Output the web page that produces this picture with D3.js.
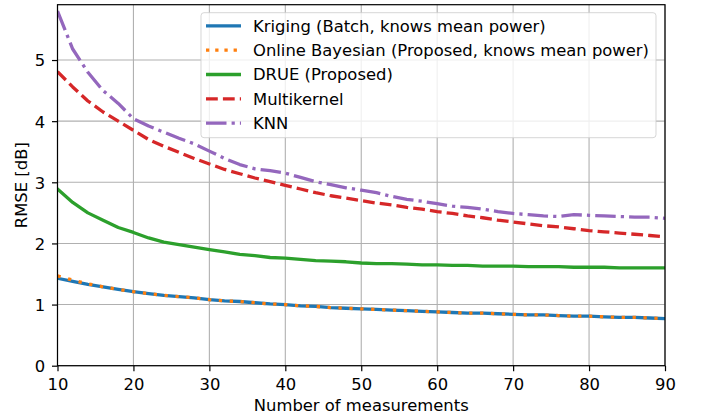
<!DOCTYPE html>
<html>
<head>
<meta charset="utf-8">
<script src="https://cdn.jsdelivr.net/npm/d3@7"></script>
<style>
  html, body { margin: 0; padding: 0; background: #fff; }
  svg { display: block; }
  text { font-family: "DejaVu Sans", sans-serif; fill: #000; }
</style>
</head>
<body>
<svg id="chart" width="701" height="418"></svg>
<script>
const xs = [10,12,14,16,18,20,22,24,26,28,30,32,34,36,38,40,42,44,46,48,50,52,54,56,58,60,62,64,66,68,70,72,74,76,78,80,82,84,86,88,90];

const kriging = [1.43,1.38,1.33,1.29,1.25,1.21,1.18,1.15,1.13,1.11,1.08,1.06,1.05,1.03,1.01,1.00,0.98,0.97,0.95,0.94,0.93,0.92,0.91,0.90,0.89,0.88,0.87,0.86,0.86,0.85,0.84,0.83,0.83,0.82,0.81,0.81,0.80,0.79,0.79,0.78,0.77];
const onlineBayes = [1.47,1.40,1.34,1.29,1.25,1.21,1.18,1.15,1.13,1.11,1.08,1.06,1.05,1.03,1.01,1.00,0.98,0.97,0.95,0.94,0.93,0.92,0.91,0.90,0.89,0.88,0.87,0.86,0.86,0.85,0.84,0.83,0.83,0.82,0.81,0.81,0.80,0.79,0.79,0.78,0.77];
const drue = [2.89,2.67,2.50,2.38,2.26,2.18,2.09,2.02,1.98,1.94,1.90,1.86,1.82,1.80,1.77,1.76,1.74,1.72,1.71,1.70,1.68,1.67,1.67,1.66,1.65,1.65,1.64,1.64,1.63,1.63,1.63,1.62,1.62,1.62,1.61,1.61,1.61,1.60,1.60,1.60,1.60];
const multikernel = [4.81,4.56,4.33,4.15,4.00,3.85,3.70,3.59,3.49,3.39,3.30,3.21,3.14,3.07,3.01,2.95,2.89,2.83,2.78,2.74,2.70,2.66,2.63,2.59,2.56,2.52,2.49,2.45,2.42,2.38,2.35,2.32,2.29,2.27,2.24,2.21,2.19,2.17,2.15,2.13,2.11];
const knn = [5.80,5.18,4.80,4.50,4.29,4.04,3.92,3.82,3.72,3.63,3.51,3.39,3.29,3.22,3.19,3.15,3.08,3.01,2.96,2.91,2.87,2.83,2.77,2.72,2.69,2.65,2.61,2.59,2.56,2.52,2.49,2.47,2.45,2.44,2.47,2.46,2.45,2.44,2.43,2.43,2.41];

const seriesNames = ["Kriging (Batch, knows mean power)", "Online Bayesian (Proposed, knows mean power)", "DRUE (Proposed)", "Multikernel", "KNN"];
const xTicks = [10,20,30,40,50,60,70,80,90];
const yTicks = [0,1,2,3,4,5];
const xLabel = "Number of measurements";
const yLabel = "RMSE [dB]";

const styles = [
  {color: "#1f77b4", dash: null, legendDash: null},
  {color: "#ff7f0e", dash: "3.3,7.6", legendDash: "3.3,5.9"},
  {color: "#2ca02c", dash: null, legendDash: null},
  {color: "#d62728", dash: "11.8,5.1", legendDash: "11.8,5.1"},
  {color: "#9467bd", dash: "20.5,5.1,3.2,5.1", legendDash: "20.5,5.1,3.2,5.1"}
];
const seriesValues = [kriging, onlineBayes, drue, multikernel, knn];

const L = 57.5, R = 665, T = 4.7, B = 365.7;
const svg = d3.select("#chart");
const x = d3.scaleLinear().domain([10, 90]).range([L, R]);
const y = d3.scaleLinear().domain([0, 5.905]).range([B, T]);
const FS = "16.4px";

// grid
const grid = svg.append("g");
grid.selectAll("line.gx").data(xTicks).enter().append("line")
  .attr("x1", d => x(d)).attr("x2", d => x(d)).attr("y1", T).attr("y2", B)
  .attr("stroke", "#b0b0b0").attr("stroke-width", 1.1);
grid.selectAll("line.gy").data(yTicks).enter().append("line")
  .attr("y1", d => y(d)).attr("y2", d => y(d)).attr("x1", L).attr("x2", R)
  .attr("stroke", "#b0b0b0").attr("stroke-width", 1.1);

// clip
svg.append("clipPath").attr("id", "clip").append("rect")
  .attr("x", L).attr("y", T).attr("width", R - L).attr("height", B - T);

const line = d3.line().x(d => x(d[0])).y(d => y(d[1]));
const lines = svg.append("g").attr("clip-path", "url(#clip)");
seriesValues.forEach((vals, i) => {
  const pts = xs.map((xv, j) => [xv, vals[j]]);
  lines.append("path").datum(pts)
    .attr("d", line)
    .attr("fill", "none")
    .attr("stroke", styles[i].color)
    .attr("stroke-width", 3.3)
    .attr("stroke-linejoin", "round")
    .attr("stroke-linecap", styles[i].dash ? "butt" : "square")
    .attr("stroke-dasharray", styles[i].dash);
});

// axes
const xAxis = d3.axisBottom(x).tickValues(xTicks).tickSize(5.5).tickPadding(6);
const yAxis = d3.axisLeft(y).tickValues(yTicks).tickSize(5.5).tickPadding(6).tickFormat(d3.format("d"));
const gx = svg.append("g").attr("transform", `translate(0,${B})`).call(xAxis);
const gy = svg.append("g").attr("transform", `translate(${L},0)`).call(yAxis);
[gx, gy].forEach(g => {
  g.select(".domain").remove();
  g.selectAll(".tick line").attr("stroke", "#000").attr("stroke-width", 1.2);
  g.selectAll(".tick text").attr("font-size", FS).attr("font-family", "DejaVu Sans").attr("fill", "#000");
});
gx.selectAll(".tick text").attr("y", 24.3).attr("dy", 0);
gy.selectAll(".tick text").attr("x", -12.3).attr("dy", "0.36em");

// spines
svg.append("rect").attr("x", L).attr("y", T).attr("width", R - L).attr("height", B - T)
  .attr("fill", "none").attr("stroke", "#000").attr("stroke-width", 1.2);

// axis labels
svg.append("text").attr("x", (L + R) / 2).attr("y", 411).attr("text-anchor", "middle")
  .attr("font-size", FS).text(xLabel);
svg.append("text").attr("transform", `translate(26.5,${(T + B) / 2}) rotate(-90)`)
  .attr("text-anchor", "middle").attr("font-size", FS).text(yLabel);

// legend
const lg = svg.append("g");
lg.append("rect").attr("x", 201).attr("y", 12.7).attr("width", 455).attr("height", 125)
  .attr("rx", 3).attr("fill", "#fff").attr("fill-opacity", 0.8)
  .attr("stroke", "#cccccc").attr("stroke-opacity", 0.8).attr("stroke-width", 1);
seriesNames.forEach((name, i) => {
  const cy = 25.9 + i * 24.3;
  lg.append("line").attr("x1", 206).attr("x2", 241).attr("y1", cy).attr("y2", cy)
    .attr("stroke", styles[i].color).attr("stroke-width", 3.3)
    .attr("stroke-linecap", "butt")
    .attr("stroke-dasharray", styles[i].legendDash);
  lg.append("text").attr("x", 253).attr("y", cy).attr("dy", "0.36em")
    .attr("font-size", FS).text(name);
});
</script>
</body>
</html>
